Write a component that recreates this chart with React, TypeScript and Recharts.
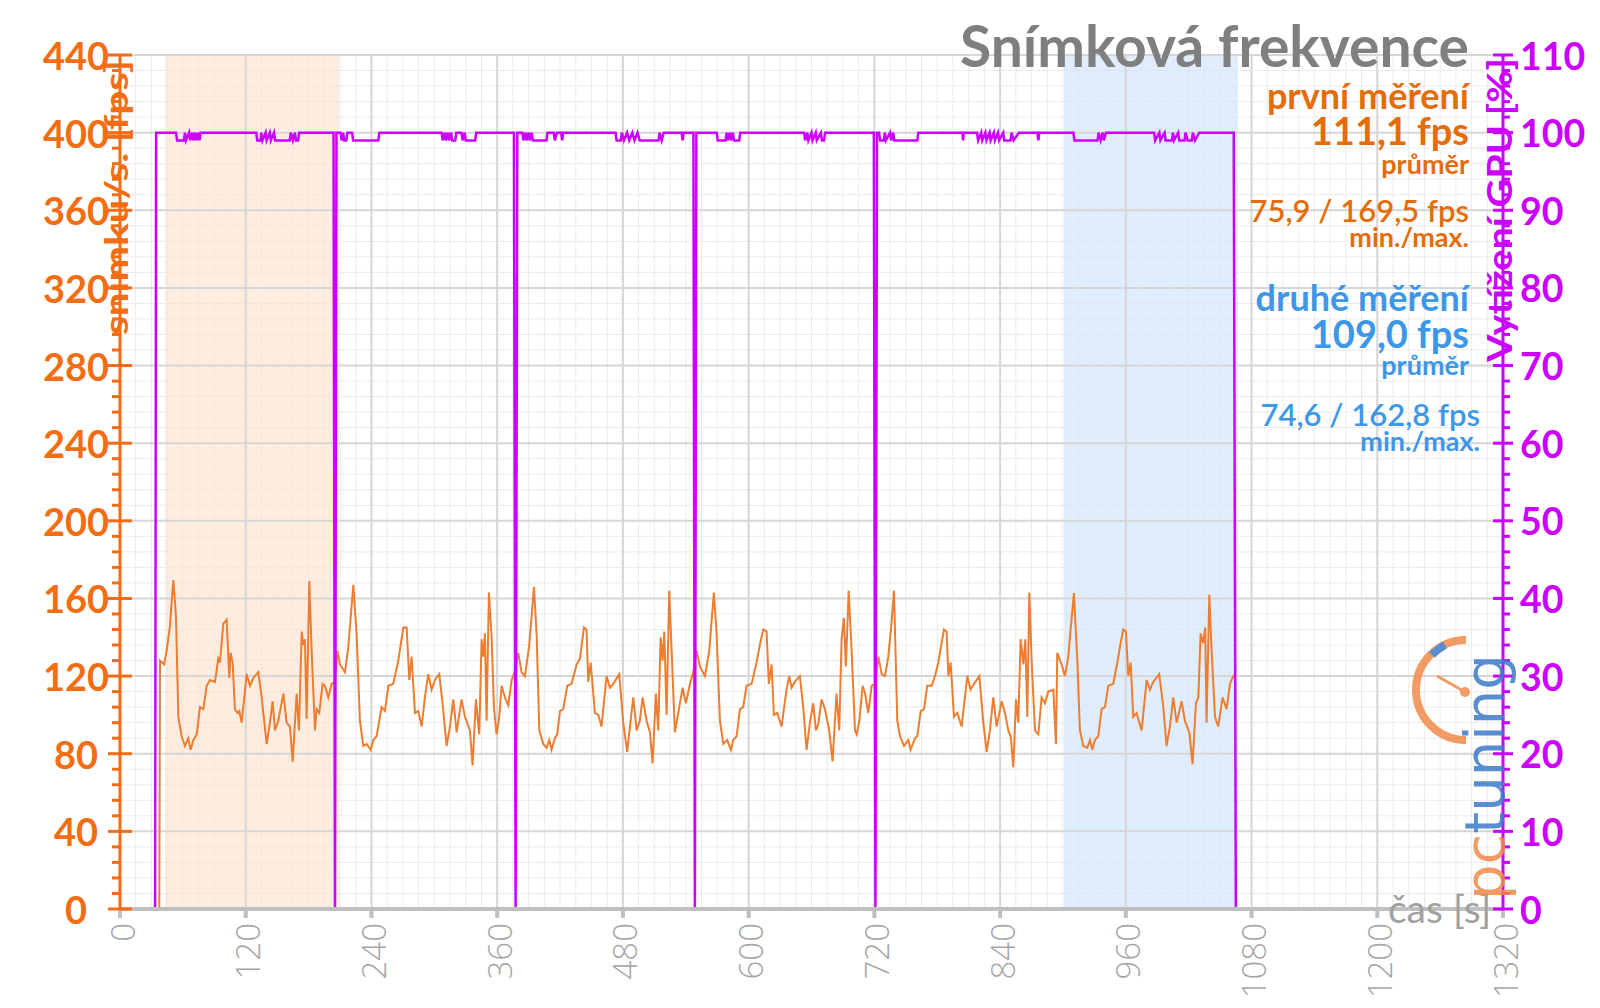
import React from 'react'
import {
  ComposedChart, Line, XAxis, YAxis, CartesianGrid, ReferenceArea, ReferenceLine
} from 'recharts'

const ORANGE = '#f26d13'
const ORANGE_TXT = '#e46c0a'
const BLUE_TXT = '#3d97e8'
const MAGENTA = '#cc00ff'
const FPS_LINE = '#ed7d31'
const AXIS_GRAY = '#bfbfbf'
const FONT = 'Lato, "Open Sans", sans-serif'

// axis ticks
const xMajor = [0, 120, 240, 360, 480, 600, 720, 840, 960, 1080, 1200, 1320]
const xMinor = Array.from({ length: 89 }, (_, i) => i * 15)
const fpsMajor = [0, 40, 80, 120, 160, 200, 240, 280, 320, 360, 400, 440]
const fpsMinor = Array.from({ length: 56 }, (_, i) => i * 8)
const gpuMinor = Array.from({ length: 56 }, (_, i) => i * 2)

// measured windows (s)
const firstWindow = [43, 209]
const secondWindow = [901, 1067]

// frame rate [t (s), fps], one array per pass of the scene
const run1: [number, number][] = [
  [37.5, 0], [38.2, 128], [42.0, 126], [44.5, 133], [47.7, 146], [50.9, 169.5], [53.4, 151], [55.7, 99],
  [58.8, 89], [62.0, 84], [65.2, 88], [67.4, 82], [70.0, 87], [73.2, 90], [76.3, 104], [79.5, 103],
  [82.7, 115], [85.9, 118], [90.7, 117], [93.8, 129], [95.4, 127], [98.6, 147], [101.8, 149], [104.3, 119],
  [105.6, 132], [107.5, 127], [109.7, 103], [112.0, 101], [113.9, 102], [116.1, 96], [120.9, 121], [124.1, 115],
  [127.2, 119], [132.0, 122], [135.2, 109], [140.0, 85], [143.1, 96], [145.7, 107], [147.9, 92], [151.1, 97],
  [155.9, 111], [159.0, 96], [162.2, 94], [164.8, 75.9], [168.6, 111], [170.8, 92], [173.4, 143], [174.9, 136],
  [176.5, 139], [178.1, 98], [180.7, 169], [182.9, 133], [186.1, 92], [187.7, 103], [190.2, 101], [193.4, 116],
  [195.6, 115], [198.8, 109], [202.0, 116], [205.2, 117],
]
const run2: [number, number][] = [
  [207.4, 133], [209.9, 126], [214.7, 122], [217.9, 135], [222.7, 167], [225.8, 142], [229.0, 97], [232.2, 84],
  [235.4, 85], [239.2, 82], [241.8, 87], [244.9, 89], [249.7, 104], [252.9, 102], [256.1, 115], [260.8, 116],
  [265.6, 128], [270.4, 145], [273.6, 145], [276.1, 118], [278.3, 130], [281.5, 101], [284.7, 102], [287.9, 94],
  [291.0, 109], [294.2, 121], [297.4, 113], [300.6, 118], [304.7, 121], [307.9, 106], [311.7, 84], [314.9, 94],
  [318.1, 108], [321.3, 91], [326.0, 108], [329.2, 99], [334.0, 92], [336.5, 74], [339.7, 108], [342.9, 90],
  [345.1, 139], [346.7, 130], [348.3, 142], [349.9, 97], [352.1, 163], [354.7, 140], [356.9, 104], [359.4, 90],
  [362.0, 99], [364.2, 115], [367.4, 109], [370.6, 105], [373.8, 118], [376.9, 122],
]
const run3: [number, number][] = [
  [380.1, 132], [383.3, 122], [386.5, 120], [390.6, 136], [395.1, 166], [397.6, 142], [400.2, 92], [404.0, 85],
  [407.2, 83], [409.7, 87], [411.9, 82], [415.1, 88], [417.3, 90], [419.9, 102], [423.1, 103], [426.9, 115],
  [431.0, 116], [435.8, 126], [439.0, 129], [442.8, 145], [445.3, 144], [446.9, 117], [449.2, 127], [453.3, 101],
  [456.5, 100], [459.6, 94], [464.4, 120], [467.6, 114], [470.8, 116], [476.5, 121], [480.3, 96], [484.1, 81],
  [486.7, 94], [489.9, 109], [493.1, 92], [496.2, 97], [498.8, 109], [502.6, 97], [505.8, 91], [508.3, 75],
  [511.5, 111], [513.7, 92], [516.0, 140], [517.9, 128], [519.5, 143], [521.7, 100], [524.2, 164], [526.5, 133],
  [529.6, 91], [532.8, 101], [537.0, 114], [540.1, 106], [544.0, 116], [547.1, 122],
]
const run4: [number, number][] = [
  [550.3, 133], [553.5, 125], [558.3, 120], [562.4, 133], [566.8, 163], [569.4, 142], [572.6, 97], [575.8, 85],
  [579.6, 87], [583.1, 82], [585.3, 87], [588.5, 89], [591.7, 103], [594.8, 104], [598.0, 115], [602.8, 116],
  [607.6, 127], [610.7, 136], [613.9, 144], [617.1, 143], [619.3, 116], [621.9, 126], [624.1, 100], [627.3, 101],
  [631.4, 94], [636.2, 113], [638.7, 120], [641.0, 114], [644.1, 117], [648.9, 120], [652.1, 104], [655.3, 82],
  [658.5, 96], [661.6, 106], [664.2, 92], [666.4, 95], [669.6, 108], [672.8, 103], [676.9, 92], [680.1, 76],
  [683.9, 111], [686.5, 92], [688.7, 139], [690.9, 150], [692.8, 125], [695.5, 164], [698.3, 133], [701.5, 92],
  [703.1, 90], [705.7, 97], [708.8, 115], [711.1, 111], [714.2, 101], [717.4, 115], [720.6, 116],
]
const run5: [number, number][] = [
  [723.8, 130], [727.0, 121], [730.1, 120], [733.3, 130], [736.0, 145], [738.7, 164], [741.9, 97], [744.5, 89],
  [748.3, 84], [752.4, 87], [754.6, 82], [758.8, 88], [761.0, 89], [764.2, 102], [767.4, 103], [770.5, 115],
  [774.7, 115], [777.9, 120], [781.0, 127], [784.2, 137], [786.4, 144], [789.0, 143], [790.6, 120], [792.8, 127],
  [796.0, 99], [799.2, 101], [803.3, 94], [808.7, 120], [811.9, 113], [815.1, 116], [820.2, 120], [824.0, 96],
  [827.2, 81], [830.3, 92], [833.5, 109], [836.7, 94], [841.5, 107], [844.7, 101], [847.8, 92], [850.1, 89],
  [852.6, 73], [855.2, 108], [857.4, 96], [859.6, 139], [862.2, 126], [864.1, 139], [866.0, 99], [867.9, 163],
  [870.1, 128], [873.3, 92], [876.5, 90], [879.6, 109], [882.8, 106], [886.0, 112], [890.8, 113], [893.3, 85],
]
const run6: [number, number][] = [
  [894.6, 132], [898.7, 126], [901.9, 120], [905.1, 130], [907.3, 144], [910.5, 162.8], [913.7, 128], [916.2, 92],
  [919.4, 84], [923.2, 83], [925.8, 87], [928.0, 82], [930.5, 87], [933.7, 89], [936.9, 103], [940.1, 104],
  [943.3, 115], [948.0, 116], [951.9, 127], [955.0, 137], [957.6, 144], [960.1, 143], [962.4, 120], [964.6, 127],
  [967.1, 99], [970.3, 101], [975.1, 92], [979.9, 118], [983.0, 113], [986.2, 117], [991.9, 121], [995.8, 104],
  [998.9, 84], [1002.1, 94], [1005.3, 109], [1008.5, 96], [1013.3, 107], [1016.4, 97], [1020.6, 91], [1023.7, 74.6],
  [1026.9, 106], [1029.2, 109], [1031.4, 142], [1033.9, 137], [1035.8, 145], [1037.1, 96], [1039.7, 162], [1041.9, 133],
  [1045.1, 99], [1048.2, 94], [1052.4, 109], [1056.2, 103], [1059.4, 116], [1062.6, 120], [1064.5, 119],
]

// GPU load [t (s), %]
const gpuSamples: [number, number][] = [
  [0, 0], [33.5, 0], [34.5, 100],
  [53.5, 100], [54.5, 99], [61, 99], [62, 100], [63, 99], [66, 100], [67, 99], [69, 100], [70, 99], [72, 100], [73, 99], [75, 100], [76, 99], [77, 100],
  [130, 100], [131, 99], [134, 99], [135, 100], [136, 99], [139, 100], [140, 99], [143, 100], [144, 99], [147, 100], [148, 99], [162, 99], [163, 100], [165, 99], [167, 100], [168, 99], [170, 99], [171, 100],
  [203.8, 100], [205.2, 0], [206.6, 100],
  [210.5, 100], [211.5, 99], [213, 100], [214, 99], [216, 99], [217, 100], [221.5, 100], [222.5, 99], [246.5, 99], [247.5, 100],
  [307, 100], [308, 99], [310, 100], [311, 99], [313, 100], [314, 99], [316, 100], [317, 99], [320, 99], [321, 100], [326, 100], [327, 99], [329, 100], [330, 99], [339, 99], [340, 100],
  [376, 100], [377.6, 0], [379.2, 100],
  [384, 100], [385, 99], [387, 100], [388, 99], [390, 100], [391, 99], [393, 100], [394, 99], [407, 99], [408, 100], [414, 100], [415, 99], [417, 100], [421, 100], [422, 99], [423, 100],
  [473, 100], [474, 99], [478, 99], [479, 100], [481, 99], [484, 100], [486, 99], [489, 100], [491, 99], [494, 100], [496, 99], [514, 99], [515, 100], [517, 99], [519, 100], [536, 100], [537, 99], [538, 100],
  [547.3, 100], [548.7, 0], [550.1, 100],
  [569.5, 100], [570.5, 99], [578, 99], [579, 100], [580, 99], [582, 100], [583, 99], [585, 100], [586, 99], [591, 99], [592, 100],
  [653, 100], [654, 99], [656, 100], [657, 99], [660, 100], [661, 99], [664, 100], [665, 99], [669, 100], [670, 99], [672, 99], [673, 100],
  [719.5, 100], [721, 0], [722.5, 100],
  [724.5, 100], [725.5, 99], [729, 99], [730, 100], [731, 99], [735, 100], [736, 99], [738, 100], [739, 99], [761, 99], [762, 100],
  [804, 100], [804.7, 99], [805.4, 100],
  [818, 100], [819, 99], [822, 100], [823, 99], [826, 100], [827, 99], [830, 100], [831, 99], [834, 100], [835, 99], [838, 100], [839, 99], [843, 100], [844, 99], [850, 99], [851, 100], [853, 99], [858, 100],
  [875.5, 100], [876.5, 99], [877.5, 100],
  [910, 100], [911, 99], [933, 99], [934, 100], [936, 99], [938, 100], [939, 99], [941, 100],
  [987, 100], [988, 99], [992, 100], [993, 99], [997, 100], [998, 99], [1004, 99], [1005, 100], [1006, 99], [1010, 100], [1011, 99], [1016, 99], [1017, 100], [1019, 99], [1023, 99], [1024, 100], [1026, 99], [1030, 100],
  [1063, 100], [1065, 0], [1200, 0],
]

const fpsData = [...run1, ...run2, ...run3, ...run4, ...run5, ...run6].map(([t, v]) => ({ t, v }))
const gpuData = gpuSamples.map(([t, v]) => ({ t, v }))

function XTick(props: any) {
  const { x, y, payload } = props
  if (payload.value % 120 !== 0) return <g />
  return (
    <g>
      <line x1={x} x2={x} y1={y} y2={y + 9} stroke={AXIS_GRAY} strokeWidth={4} />
      <text
        x={x + 2} y={y + 14} transform={`rotate(-90 ${x + 2} ${y + 14})`}
        textAnchor="end" dominantBaseline="central"
        fontFamily='"Open Sans", sans-serif' fontWeight={300} fontSize={33} fill="#a6a6a6"
      >
        {payload.value}
      </text>
    </g>
  )
}

function FpsTick(props: any) {
  const { x, y, payload } = props
  const major = payload.value % 40 === 0
  return (
    <g>
      {major
        ? <line x1={x - 12} x2={x + 12} y1={y} y2={y} stroke={ORANGE} strokeWidth={3} />
        : <line x1={x - 8} x2={x} y1={y} y2={y} stroke={ORANGE} strokeWidth={3} />}
      {major && (
        <text x={x - 44} y={y} textAnchor="middle" dominantBaseline="central"
          fontFamily={FONT} fontWeight={700} fontSize={38} fill={ORANGE}>
          {payload.value}
        </text>
      )}
    </g>
  )
}

function GpuTick(props: any) {
  const { x, y, payload } = props
  const major = payload.value % 10 === 0
  return (
    <g>
      {major
        ? <line x1={x - 10} x2={x + 10} y1={y} y2={y} stroke={MAGENTA} strokeWidth={3} />
        : <line x1={x} x2={x + 7} y1={y} y2={y} stroke={MAGENTA} strokeWidth={3} />}
      {major && (
        <text x={x + 17} y={y} textAnchor="start" dominantBaseline="central"
          fontFamily={FONT} fontWeight={700} fontSize={37.5} fill={MAGENTA}>
          {payload.value}
        </text>
      )}
    </g>
  )
}

export default function App() {
  return (
    <div style={{ position: 'absolute', left: 0, top: 0, width: 1600, height: 1008, background: '#fff' }}>
      <ComposedChart width={1600} height={1008} margin={{ top: 55, right: 10, bottom: 10, left: 10 }}>
        <CartesianGrid yAxisId="fps" stroke="#ebebeb" strokeWidth={1} />
        <ReferenceArea yAxisId="fps" x1={firstWindow[0]} x2={firstWindow[1]} fill="#fce4cf" fillOpacity={0.65} stroke="none" />
        <ReferenceArea yAxisId="fps" x1={secondWindow[0]} x2={secondWindow[1]} fill="#d3e6fb" fillOpacity={0.7} stroke="none" />
        {xMajor.map(v => (
          <ReferenceLine key={'vx' + v} yAxisId="fps" x={v} stroke="#d6d6d6" strokeWidth={2} />
        ))}
        {fpsMajor.map(v => (
          <ReferenceLine key={'hy' + v} yAxisId="fps" y={v} stroke="#d6d6d6" strokeWidth={2} />
        ))}
        <XAxis
          dataKey="t" type="number" domain={[0, 1320]} ticks={xMinor} interval={0} allowDataOverflow
          height={89} tickLine={false} tickSize={0} tickMargin={0}
          axisLine={{ stroke: AXIS_GRAY, strokeWidth: 4 }} tick={(p: any) => <XTick {...p} />}
        />
        <YAxis
          yAxisId="fps" orientation="left" width={110} domain={[0, 440]} ticks={fpsMinor} interval={0}
          allowDataOverflow tickLine={false} tickSize={0} tickMargin={0}
          axisLine={{ stroke: ORANGE, strokeWidth: 3 }} tick={(p: any) => <FpsTick {...p} />}
        />
        <YAxis
          yAxisId="gpu" orientation="right" width={87} domain={[0, 110]} ticks={gpuMinor} interval={0}
          allowDataOverflow tickLine={false} tickSize={0} tickMargin={0}
          axisLine={{ stroke: MAGENTA, strokeWidth: 3 }} tick={(p: any) => <GpuTick {...p} />}
        />
        <Line yAxisId="fps" data={fpsData} dataKey="v" type="linear" stroke={FPS_LINE}
          strokeWidth={2} dot={false} activeDot={false} isAnimationActive={false} />
        <Line yAxisId="gpu" data={gpuData} dataKey="v" type="linear" stroke={MAGENTA}
          strokeWidth={2.5} dot={false} activeDot={false} isAnimationActive={false} />
      </ComposedChart>

      <svg width={1600} height={1008} style={{ position: 'absolute', left: 0, top: 0, pointerEvents: 'none' }}>
        <text x={1469} y={67} textAnchor="end" fontFamily={FONT} fontWeight={700} fontSize={57} fill="#7f7f7f">
          Snímková frekvence
        </text>

        <g fontFamily={FONT} fontWeight={700} textAnchor="end" fill={ORANGE_TXT}>
          <text x={1469} y={109} fontSize={36}>první měření</text>
          <text x={1469} y={145} fontSize={38}>111,1 fps</text>
          <text x={1469} y={174} fontSize={27}>průměr</text>
          <text x={1469} y={222} fontSize={31} fontWeight={600}>75,9 / 169,5 fps</text>
          <text x={1469} y={247} fontSize={27}>min./max.</text>
        </g>
        <g fontFamily={FONT} fontWeight={700} textAnchor="end" fill={BLUE_TXT}>
          <text x={1469} y={311} fontSize={36}>druhé měření</text>
          <text x={1469} y={348} fontSize={38}>109,0 fps</text>
          <text x={1469} y={375} fontSize={27}>průměr</text>
          <text x={1480} y={426} fontSize={31} fontWeight={600}>74,6 / 162,8 fps</text>
          <text x={1480} y={451} fontSize={27}>min./max.</text>
        </g>

        <text x={128} y={60} transform="rotate(-90 128 60)" textAnchor="end"
          fontFamily={FONT} fontWeight={700} fontSize={32} fill={ORANGE}
          textLength={275} lengthAdjust="spacingAndGlyphs">
          snímků/s. [fps]
        </text>
        <text x={1512} y={58} transform="rotate(-90 1512 58)" textAnchor="end"
          fontFamily={FONT} fontWeight={700} fontSize={34} fill={MAGENTA}
          textLength={304} lengthAdjust="spacingAndGlyphs">
          Vytížení GPU [%]
        </text>
        <text x={1388} y={908} dominantBaseline="central" fontFamily={FONT} fontSize={39} fill="#a0a0a0">
          čas [s]
        </text>

        {/* pctuning logo */}
        <g opacity={0.85}>
          <path d="M 1466 640 A 50 50 0 0 0 1466 740" fill="none" stroke="#f08a4b" strokeWidth={8} />
          <path d="M 1432 655 A 50 50 0 0 1 1445 645" fill="none" stroke="#3d7cc9" strokeWidth={8} />
          <line x1={1437} y1={676} x2={1465} y2={692} stroke="#f08a4b" strokeWidth={3} />
          <circle cx={1465} cy={692} r={5} fill="#f08a4b" />
          <text x={1504} y={900} transform="rotate(-90 1504 900)" fontFamily='"DejaVu Sans", sans-serif'
            fontSize={56}>
            <tspan fill="#f08a4b">pc</tspan><tspan fill="#3d7cc9">tuning</tspan>
          </text>
        </g>
      </svg>
    </div>
  )
}
